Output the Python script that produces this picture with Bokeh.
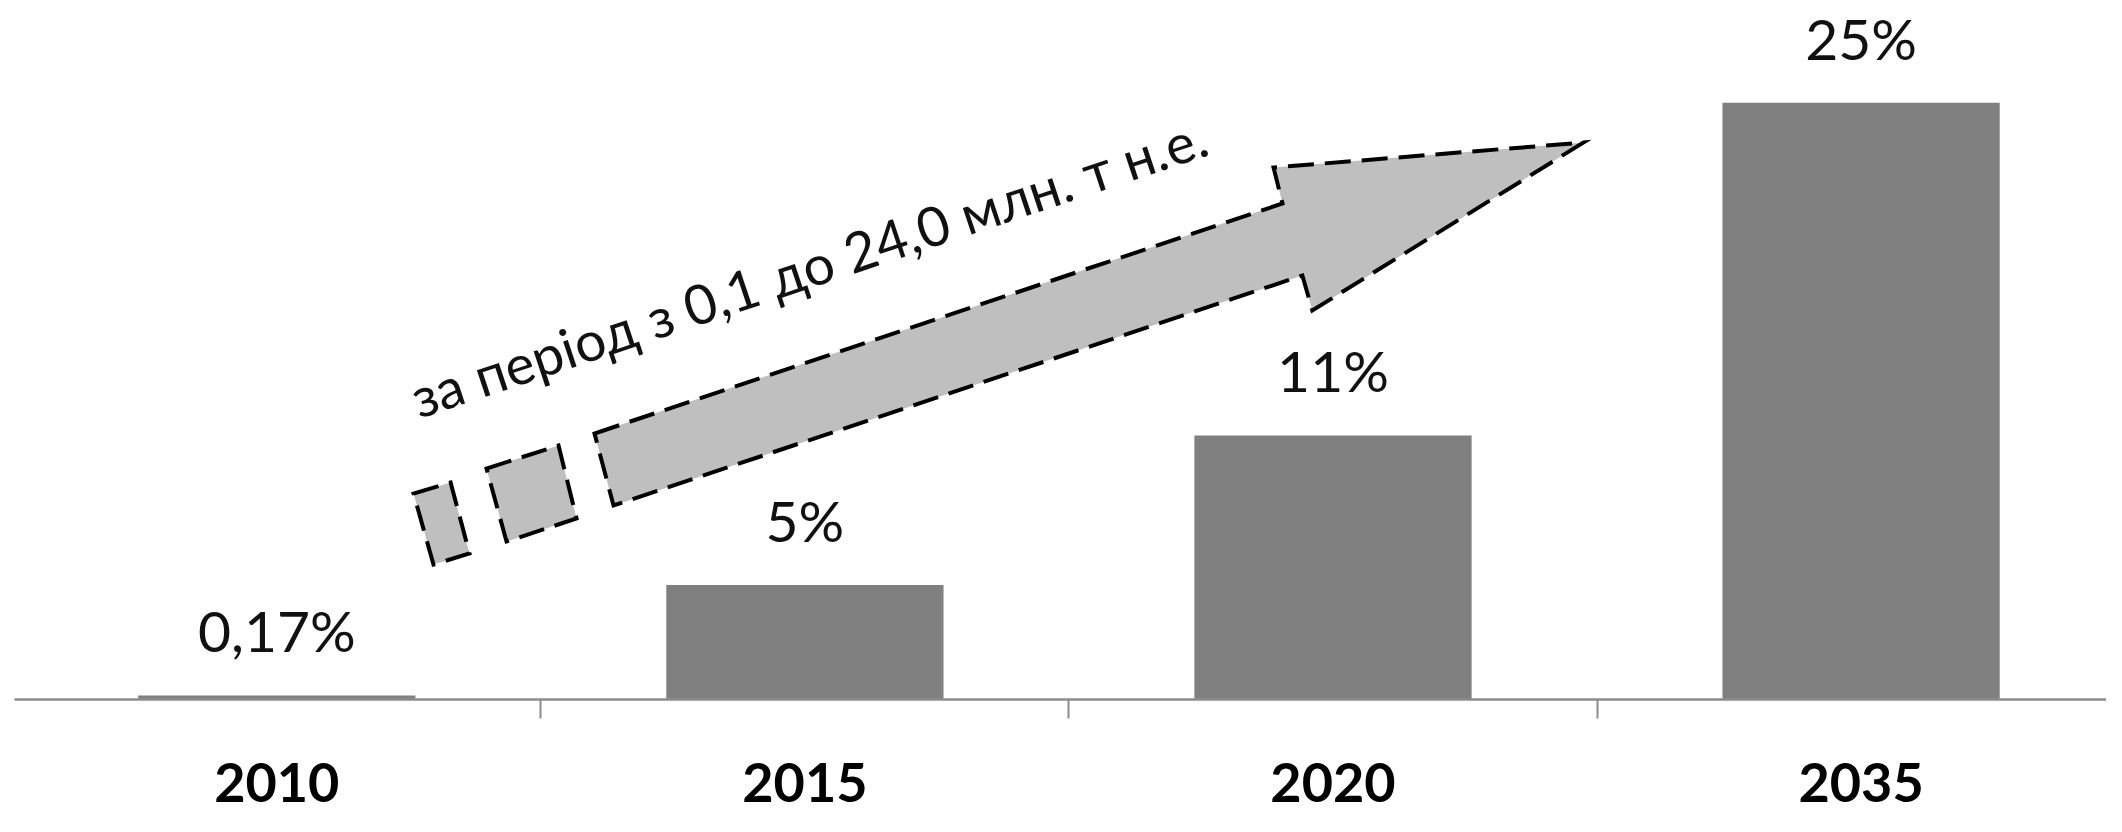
import math
from bokeh.plotting import figure
from bokeh.models import LinearAxis, FixedTicker, Range1d
from bokeh.core.properties import value
from bokeh.embed import file_html
from bokeh.resources import INLINE

# ---- data ----
years = ["2010", "2015", "2020", "2035"]
shares = [0.17, 4.80, 11.06, 25.0]          # bar heights, %
share_labels = ["0,17%", "5%", "11%", "25%"]
arrow_text = "за період  з 0,1 до 24,0 млн. т н.е."

idx = list(range(len(years)))

# ---- figure geometry ----
W, H = 2106, 816
PX_PER_CAT = 528.1
PX_PER_PCT = 23.87
ZERO_Y = 699.0          # px from top of figure
FIRST_X = 276.3         # px of first category centre

x0 = -FIRST_X / PX_PER_CAT
x1 = (W - FIRST_X) / PX_PER_CAT
y1 = ZERO_Y / PX_PER_PCT
y0 = -(H - ZERO_Y) / PX_PER_PCT

p = figure(width=W, height=H, x_range=Range1d(x0, x1), y_range=Range1d(y0, y1),
           output_backend="svg", toolbar_location=None,
           x_axis_location=None, y_axis_location=None, min_border=0,
           outline_line_color=None, background_fill_color="white",
           border_fill_color="white")
p.grid.visible = False

# bars
p.vbar(x=idx, top=shares, bottom=0, width=0.525, fill_color="#808080",
       line_color=None)

# value labels
p.text(x=idx, y=shares, text=share_labels, y_offset=-65,
       text_align="center", text_baseline="alphabetic",
       text_font=value("Lato"), text_font_size="57px", text_color="#111111")

# ---- decorative dashed arrow (annotation geometry in data units) ----
arrow_body_x = [0.6016, 1.9044, 1.8874, 2.4744, 1.9609, 1.9420, 0.6376]
arrow_body_y = [11.144, 20.779, 22.287, 23.335, 16.297, 17.763, 8.127]
block1_x = [0.2589, 0.3291, 0.3649, 0.2967]
block1_y = [8.630, 9.091, 6.116, 5.656]
block2_x = [0.3971, 0.5335, 0.5676, 0.4350]
block2_y = [9.677, 10.641, 7.583, 6.619]

p.patches(xs=[block1_x, block2_x, arrow_body_x],
          ys=[block1_y, block2_y, arrow_body_y],
          fill_color="#bfbfbf", line_color="black", line_width=4,
          line_dash="26 11", line_join="miter")

p.text(x=[0.2570], y=[12.589], text=[arrow_text], angle=math.atan(0.334),
       text_align="left", text_baseline="alphabetic",
       text_font=value("Lato"), text_font_size="55px", text_color="#111111")

# ---- category axis at y = 0 ----
ax = LinearAxis(fixed_location=0,
                ticker=FixedTicker(ticks=idx, minor_ticks=[0.5, 1.5, 2.5]),
                bounds=(-0.4976, x1),
                major_label_overrides={i: y for i, y in zip(idx, years)})
ax.axis_line_color = "#8c8c8c"
ax.axis_line_width = 2.5
ax.major_tick_line_color = None
ax.major_tick_out = 0
ax.major_tick_in = 0
ax.minor_tick_line_color = "#8c8c8c"
ax.minor_tick_line_width = 2
ax.minor_tick_out = 19
ax.minor_tick_in = 0
ax.major_label_standoff = 44
ax.major_label_text_font = "Lato"
ax.major_label_text_font_style = "bold"
ax.major_label_text_font_size = "54px"
ax.major_label_text_color = "black"
p.add_layout(ax, "below")

open("out.html", "w").write(file_html(p, INLINE))
